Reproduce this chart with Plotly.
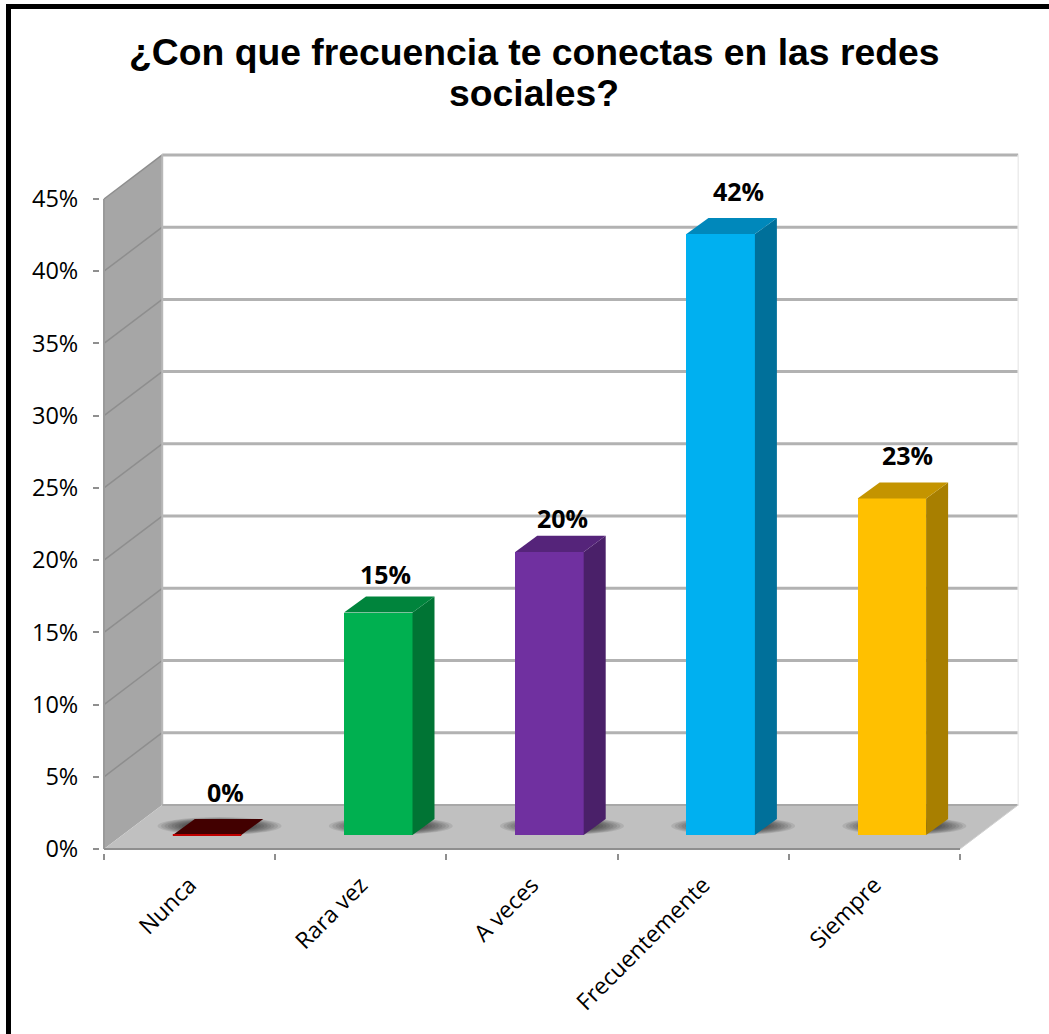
import plotly.graph_objects as go

# ---- data ----
categories = ["Nunca", "Rara vez", "A veces", "Frecuentemente", "Siempre"]
values = [0, 15.4, 19.6, 41.6, 23.3]
value_labels = ["0%", "15%", "20%", "42%", "23%"]
y_ticks = [0, 5, 10, 15, 20, 25, 30, 35, 40, 45]
y_tick_labels = ["0%", "5%", "10%", "15%", "20%", "25%", "30%", "35%", "40%", "45%"]
title_lines = ["¿Con que frecuencia te conectas en las redes", "sociales?"]

# ---- style ----
front_colors = ["#c00000", "#00b050", "#7030a0", "#00b0f0", "#ffc000"]
side_colors = ["#7a0000", "#007434", "#4a2069", "#00709a", "#a87f00"]
top_colors = ["#420000", "#00843c", "#55247a", "#0088bb", "#c49400"]
label_dx = [18, 7, 13, 18, 16]
label_dy = [27, 23, 18, 27, 27]

W, H = 1049, 1034
LEFT, RIGHT, TOP, BOTTOM = 104, 1019, 154, 849
UX = 171.2          # pixels per category
UY = 650 / 45       # pixels per percent
PAD = 4
WALL_DX, WALL_DY = 0.34, 3.05
BASE = 0.97         # bars stand this far back on the floor
BAR_W, BAR_SHIFT = 0.4, 0.102
DEPTH_X, DEPTH_Y = 0.1285, 1.108
X0 = -0.5
XEND = X0 + len(categories)
FONT = "Open Sans"


def path(xs, ys):
    return "M" + "L".join(f"{a},{b}" for a, b in zip(xs, ys)) + "Z"


def paper(px_x, px_y):
    return (px_x - (LEFT - PAD)) / (RIGHT - LEFT + 2 * PAD), 1 - (px_y - (TOP - PAD)) / (BOTTOM - TOP + 2 * PAD)


fig = go.Figure()
shapes = []


def add_poly(xs, ys, color):
    shapes.append(dict(type="path", path=path(xs, ys), fillcolor=color, line=dict(width=0),
                       xref="x", yref="y", layer="below"))


def add_line(x0, y0, x1, y1, color, width):
    shapes.append(dict(type="line", x0=x0, y0=y0, x1=x1, y1=y1, xref="x", yref="y", layer="below",
                       line=dict(color=color, width=width)))


# walls and floor
add_poly([X0, X0 + WALL_DX, X0 + WALL_DX, X0], [0, WALL_DY, 45 + WALL_DY, 45], "#a6a6a6")
add_poly([X0, X0 + WALL_DX, XEND + WALL_DX, XEND], [0, WALL_DY, WALL_DY, 0], "#c0c0c0")
for t in y_ticks[1:]:
    add_line(X0 + WALL_DX, t + WALL_DY, XEND + WALL_DX, t + WALL_DY, "#b2b2b2", 3)
    add_line(X0, t, X0 + WALL_DX, t + WALL_DY, "#8e8e8e", 1.5)
add_line(X0 + WALL_DX, WALL_DY, X0 + WALL_DX, 45 + WALL_DY, "#b8b8b8", 2)
add_line(X0 + WALL_DX, WALL_DY, XEND + WALL_DX, WALL_DY, "#a8a8a8", 2)
add_line(XEND + WALL_DX, WALL_DY, XEND + WALL_DX, 45 + WALL_DY, "#ececec", 1.5)
add_line(X0, 0, X0, 45, "#9a9a9a", 2)
add_line(X0, 0, XEND, 0, "#8f8f8f", 2)
add_line(XEND, 0, XEND + WALL_DX, WALL_DY, "#d0d0d0", 1)

# soft floor shadows
for i in range(len(categories)):
    steps = 18
    for s in range(steps):
        f = 1 - s / steps
        cx, cy = i + 0.175, 1.59
        rx, ry = 0.362 * f, 0.62 * f
        shapes.append(dict(type="circle", x0=cx - rx, x1=cx + rx, y0=cy - ry, y1=cy + ry,
                           xref="x", yref="y", layer="below", fillcolor="rgba(0,0,0,0.085)",
                           line=dict(width=0)))

# front faces
fig.add_trace(go.Bar(
    x=[i + BAR_SHIFT for i in range(len(categories))], y=values, base=[BASE] * len(values),
    width=BAR_W, marker=dict(color=front_colors, line=dict(width=0)), hoverinfo="skip", showlegend=False,
))

# side and top faces
for i, v in enumerate(values):
    xl = i + BAR_SHIFT - BAR_W / 2
    xr = i + BAR_SHIFT + BAR_W / 2
    yb = BASE
    yt = BASE + v
    if v > 0:
        fig.add_trace(go.Scatter(
            x=[xr, xr + DEPTH_X, xr + DEPTH_X, xr, xr],
            y=[yb, yb + DEPTH_Y, yt + DEPTH_Y, yt, yb],
            mode="lines", fill="toself", fillcolor=side_colors[i], line=dict(width=0),
            hoverinfo="skip", showlegend=False))
    fig.add_trace(go.Scatter(
        x=[xl, xl + DEPTH_X, xr + DEPTH_X, xr, xl],
        y=[yt, yt + DEPTH_Y, yt + DEPTH_Y, yt, yt],
        mode="lines", fill="toself", fillcolor=top_colors[i], line=dict(width=0),
        hoverinfo="skip", showlegend=False))
    if v == 0:
        fig.add_trace(go.Scatter(x=[xl, xr], y=[yt, yt], mode="lines",
                                 line=dict(color=front_colors[i], width=2),
                                 hoverinfo="skip", showlegend=False))

annotations = []
for i, v in enumerate(values):
    annotations.append(dict(
        x=i + BAR_SHIFT, y=BASE + v + DEPTH_Y, xref="x", yref="y", text=value_labels[i], showarrow=False,
        xanchor="center", yanchor="middle", xshift=label_dx[i], yshift=label_dy[i],
        font=dict(family=FONT, size=25, color="#000000", weight="bold")))

for line, py in zip(title_lines, [52, 93]):
    px_, py_ = paper(534, py)
    annotations.append(dict(x=px_, y=py_, xref="paper", yref="paper", text=line, showarrow=False,
                            xanchor="center", yanchor="middle",
                            font=dict(family="Liberation Sans", size=37.3, color="#000000", weight="bold")))

# outer frame: left and top only
for (a, b, c, d) in [(6, 4, 11, H), (6, 4, W, 9)]:
    x0, y0 = paper(a, b)
    x1, y1 = paper(c, d)
    shapes.append(dict(type="rect", x0=x0, y0=y0, x1=x1, y1=y1, xref="paper", yref="paper",
                       fillcolor="#000000", line=dict(width=0), layer="above"))

x_lo = X0 - PAD / UX
x_hi = x_lo + (RIGHT - LEFT + 2 * PAD) / UX
y_lo = -PAD / UY
y_hi = y_lo + (BOTTOM - TOP + 2 * PAD) / UY

fig.update_layout(
    width=W, height=H, autosize=False,
    margin=dict(l=LEFT - PAD, r=W - RIGHT - PAD, t=TOP - PAD, b=H - BOTTOM - PAD, pad=0),
    paper_bgcolor="#ffffff", plot_bgcolor="rgba(0,0,0,0)",
    showlegend=False, shapes=shapes, annotations=annotations, bargap=0,
    xaxis=dict(range=[x_lo, x_hi], tickmode="array",
               tickvals=list(range(len(categories))), ticktext=categories,
               tickangle=-45, ticks="", showgrid=False, zeroline=False, showline=False,
               ticklabelstandoff=13,
               tickfont=dict(family=FONT, size=23, color="#000000"),
               minor=dict(tickmode="array", tickvals=[X0 + k for k in range(len(categories) + 1)],
                          ticks="outside", ticklen=6, tickwidth=1.5, tickcolor="#8f8f8f", showgrid=False)),
    yaxis=dict(range=[y_lo, y_hi], tickmode="array", tickvals=y_ticks, ticktext=y_tick_labels,
               ticks="outside", ticklen=6, tickwidth=1.5, tickcolor="#8f8f8f",
               showgrid=False, zeroline=False, showline=False, ticklabelstandoff=10,
               tickfont=dict(family=FONT, size=23.5, color="#000000")),
)

fig.write_html("out.html", config=dict(displayModeBar=False),
               post_script="document.body.style.margin='0';document.body.style.overflow='hidden';")
